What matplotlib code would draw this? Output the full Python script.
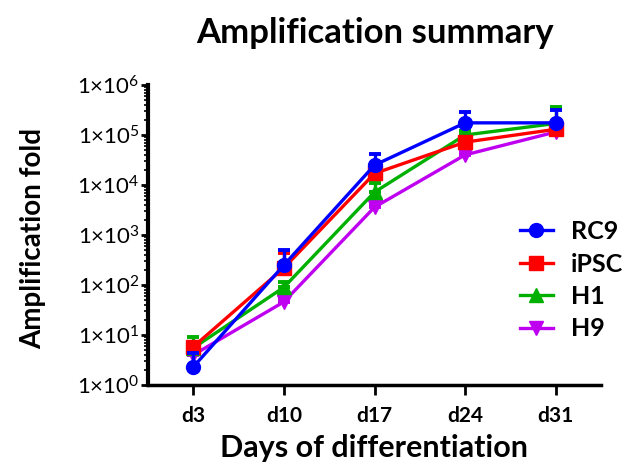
import numpy as np
import matplotlib
matplotlib.use("Agg")
import matplotlib.pyplot as plt
from matplotlib.ticker import FixedLocator, FuncFormatter, LogLocator, NullFormatter

plt.rcParams['font.family'] = ['Lato', 'DejaVu Sans']
plt.rcParams['mathtext.fontset'] = 'custom'
plt.rcParams['mathtext.rm'] = 'Lato'
plt.rcParams['mathtext.it'] = 'Lato:italic'
plt.rcParams['mathtext.bf'] = 'Lato:bold'

# Data
days = ["d3", "d10", "d17", "d24", "d31"]
series = ["RC9", "iPSC", "H1", "H9"]
colors = ["#0000FF", "#FF0000", "#00B000", "#BF00F0"]
markers = ["o", "s", "^", "v"]

rc9 = [2.3, 250, 25000, 175000, 175000]
ipsc = [5.8, 220, 17000, 72000, 130000]
h1 = [5.5, 90, 7200, 100000, 170000]
h9 = [4.0, 46, 3600, 40000, 115000]

rc9_err = [2.1, 250, 17000, 115000, 140000]
ipsc_err = [1.2, 220, 3000, 18000, 30000]
h1_err = [3.6, 25, 3800, 20000, 190000]
h9_err = [0.5, 5, 400, 4000, 10000]

values = [rc9, ipsc, h1, h9]
errors = [rc9_err, ipsc_err, h1_err, h9_err]

fig = plt.figure(figsize=(6.27, 4.67), dpi=100)
ax = fig.add_axes([148 / 627, 1 - 385 / 467, (601 - 148) / 627, (385 - 85) / 467])

x = np.arange(len(days))
handles = []
for i in range(len(series) - 1, -1, -1):
    z = 10 - i
    ax.errorbar(x, values[i], yerr=[np.zeros(len(x)), errors[i]], fmt="none",
                ecolor=colors[i], elinewidth=2.4, capsize=4.5, capthick=2.8, zorder=z)
    line, = ax.plot(x, values[i], color=colors[i], marker=markers[i], lw=2.4,
                    ms=10, label=series[i], zorder=z + 0.5)
    handles.append(line)
handles = handles[::-1]

ax.set_yscale("log")
ax.set_ylim(1, 1e6)
ax.set_xlim(-0.5, 4.5)
ax.set_xticks(x)
ax.set_xticklabels(days, fontsize=15, fontweight="bold")

ax.yaxis.set_major_locator(FixedLocator([10.0 ** k for k in range(7)]))
ax.yaxis.set_major_formatter(FuncFormatter(
    lambda v, p: "1\u00d710$^{%d}$" % int(round(np.log10(v)))))
ax.yaxis.set_minor_locator(LogLocator(base=10, subs=np.arange(2, 10), numticks=20))
ax.yaxis.set_minor_formatter(NullFormatter())
for lab in ax.get_yticklabels():
    lab.set_fontsize(16)

for s in ["top", "right"]:
    ax.spines[s].set_visible(False)
ax.spines["left"].set_linewidth(3)
ax.spines["bottom"].set_linewidth(2.5)
ax.tick_params(axis="y", which="major", length=5, width=2, pad=1)
ax.tick_params(axis="y", which="minor", length=3, width=1.2)
ax.tick_params(axis="x", length=7, width=2, pad=8)

ax.set_xlabel("Days of differentiation", fontsize=22, fontweight="bold", labelpad=6)
ax.set_ylabel("Amplification fold", fontsize=20, fontweight="bold")
ax.yaxis.set_label_coords(-0.225, 0.49)
ax.set_title("Amplification summary", fontsize=25, fontweight="bold", pad=30)

fig.legend(handles, series, loc="upper left", bbox_to_anchor=(520 / 627, 1 - 220 / 467),
           frameon=False, prop={"weight": "bold", "size": 18},
           handlelength=1.3, handletextpad=0.75, labelspacing=0.38,
           borderpad=0, borderaxespad=0)

fig.savefig("out.png", dpi=100)
